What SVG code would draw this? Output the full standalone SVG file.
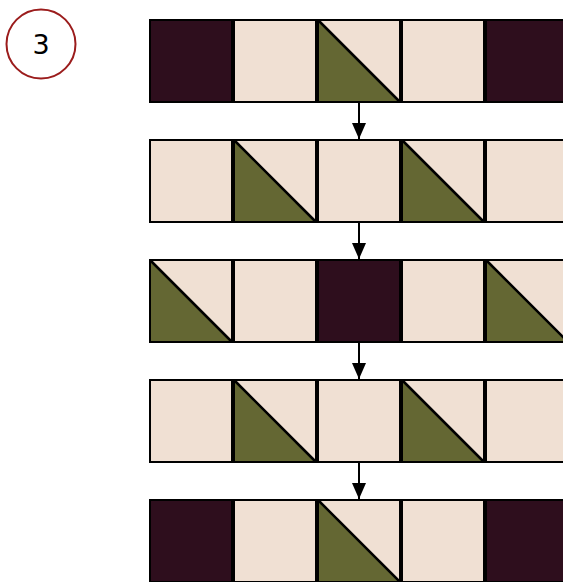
<svg xmlns="http://www.w3.org/2000/svg" width="563" height="582" viewBox="0 0 563 582">
<style>
.d{fill:#2e0e1d;stroke:#000;stroke-width:2}
.c{fill:#f0e0d3;stroke:#000;stroke-width:2}
.g{fill:#646733;stroke:#000;stroke-width:1.5;stroke-linejoin:bevel}
.dg{stroke:#000;stroke-width:2.5;fill:none}
.ln{stroke:#000;stroke-width:2;fill:none}
</style>
<defs>
<g id="D"><rect class="d" x="0" y="0" width="82" height="82"/></g>
<g id="C"><rect class="c" x="0" y="0" width="82" height="82"/></g>
<g id="T"><rect class="c" x="0" y="0" width="82" height="82"/><polygon class="g" points="0,0 82,82 0,82"/><rect x="0" y="0" width="82" height="82" fill="none" stroke="#000" stroke-width="2"/><line class="dg" x1="0" y1="0" x2="82" y2="82"/></g>
<marker id="ah" markerWidth="16" markerHeight="14" refX="16" refY="7" orient="auto" markerUnits="userSpaceOnUse" viewBox="0 0 16 14"><path d="M0,0 L16,7 L0,14 Z" fill="#000"/></marker>
</defs>
<g id="step">
<circle cx="41" cy="44" r="34.5" fill="#fff" stroke="#9b1c1c" stroke-width="2"/>
<text x="41" y="54" font-family="DejaVu Sans, sans-serif" font-size="27" text-anchor="middle" fill="#000">3</text>
</g>
<g id="row1">
<use href="#D" x="150" y="20"/><use href="#C" x="234" y="20"/><use href="#T" x="318" y="20"/><use href="#C" x="402" y="20"/><use href="#D" x="486" y="20"/>
</g>
<g id="row2">
<use href="#C" x="150" y="140"/><use href="#T" x="234" y="140"/><use href="#C" x="318" y="140"/><use href="#T" x="402" y="140"/><use href="#C" x="486" y="140"/>
</g>
<g id="row3">
<use href="#T" x="150" y="260"/><use href="#C" x="234" y="260"/><use href="#D" x="318" y="260"/><use href="#C" x="402" y="260"/><use href="#T" x="486" y="260"/>
</g>
<g id="row4">
<use href="#C" x="150" y="380"/><use href="#T" x="234" y="380"/><use href="#C" x="318" y="380"/><use href="#T" x="402" y="380"/><use href="#C" x="486" y="380"/>
</g>
<g id="row5">
<use href="#D" x="150" y="500"/><use href="#C" x="234" y="500"/><use href="#T" x="318" y="500"/><use href="#C" x="402" y="500"/><use href="#D" x="486" y="500"/>
</g>
<g id="connectors">
<path class="ln" d="M359,103 V139" marker-end="url(#ah)"/>
<path class="ln" d="M359,223 V259" marker-end="url(#ah)"/>
<path class="ln" d="M359,343 V379" marker-end="url(#ah)"/>
<path class="ln" d="M359,463 V499" marker-end="url(#ah)"/>
</g>
</svg>
